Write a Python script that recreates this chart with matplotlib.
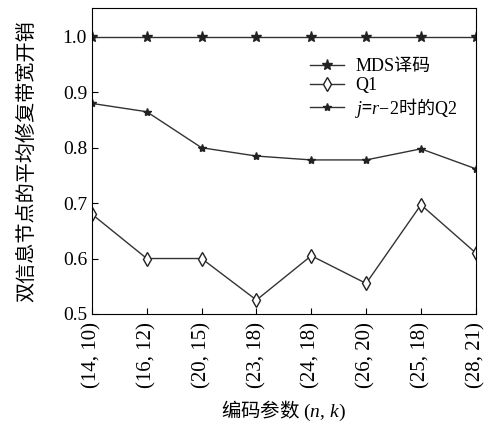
import matplotlib.pyplot as plt

plt.rcParams['font.family'] = ['Liberation Serif', 'Noto Sans CJK SC']
plt.rcParams['mathtext.fontset'] = 'custom'
plt.rcParams['mathtext.rm'] = 'Liberation Serif'
plt.rcParams['mathtext.it'] = 'Liberation Serif:italic'

params = ["(14, 10)", "(16, 12)", "(20, 15)", "(23, 18)", "(24, 18)", "(26, 20)", "(25, 18)", "(28, 21)"]
mds = [1.0, 1.0, 1.0, 1.0, 1.0, 1.0, 1.0, 1.0]
q1 = [0.68, 0.60, 0.60, 0.525, 0.605, 0.555, 0.697, 0.61]
q2 = [0.88, 0.865, 0.80, 0.785, 0.778, 0.778, 0.798, 0.762]

cjk = ['Noto Sans CJK SC']

fig = plt.figure(figsize=(4.89, 4.30), dpi=100)
ax = fig.add_axes([0.188, 0.270, 0.785, 0.711])

x = range(len(params))
ax.plot(x, mds, color="#333333", lw=1, marker="*", ms=8, mfc="#222222", mec="#222222", label="MDS译码")
ax.plot(x, q1, color="#333333", lw=1, marker="d", ms=7, mfc="white", mec="#222222", label="Q1")
ax.plot(x, q2, color="#333333", lw=1, marker="*", ms=6, mfc="#222222", mec="#222222",
        label=r"$j$=$r$$\mathrm{−2}$时的$\mathrm{Q2}$")

ax.set_xlim(0, 7)
ax.set_ylim(0.5, 1.052)
ax.set_yticks([0.5, 0.6, 0.7, 0.8, 0.9, 1.0])
ax.set_yticklabels(["0.5", "0.6", "0.7", "0.8", "0.9", "1.0"])
ax.set_xticks(list(x))
ax.set_xticklabels(params, rotation=90)
ax.tick_params(direction="in", labelsize=14, length=4)
ax.tick_params(axis="x", labelsize=15, pad=6)
ax.set_xlabel(r"编码参数 $(n,\,k)$", fontsize=14, family=cjk, labelpad=8)
ax.set_ylabel("双信息节点的平均修复带宽开销", fontsize=14.5, labelpad=18)

leg = ax.legend(loc="upper left", bbox_to_anchor=(0.535, 0.878), frameon=False, fontsize=13,
                handlelength=1.9, labelspacing=0.1, borderpad=0.2, handletextpad=0.6)
leg.get_texts()[2].set_family(cjk)

plt.savefig("out.png", dpi=100)
